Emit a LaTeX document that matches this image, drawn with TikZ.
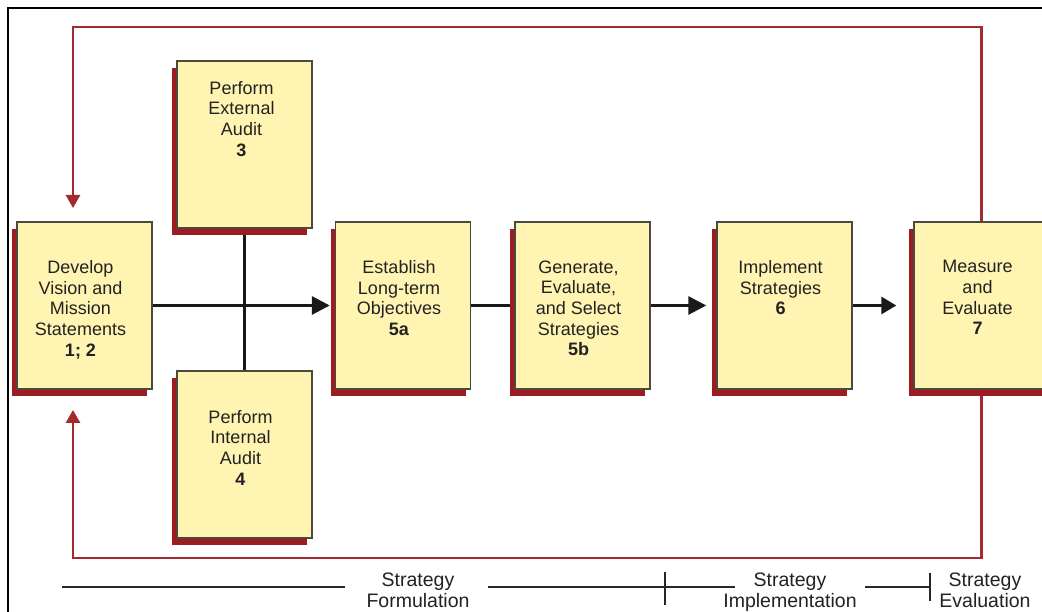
\documentclass[tikz,border=0pt]{standalone}
\usepackage{fontspec}
\setmainfont{Liberation Sans}
\usetikzlibrary{arrows.meta,shadows,backgrounds}
\definecolor{boxfill}{HTML}{FFF4B2}
\definecolor{boxedge}{HTML}{4D4A3C}
\definecolor{shadowred}{HTML}{9C1C21}
\definecolor{loopred}{HTML}{A32A2E}
\definecolor{txt}{HTML}{222222}
\begin{document}
\begin{tikzpicture}[x=1pt,y=1pt,
  stagebox/.style={draw=boxedge, line width=1.4pt, fill=boxfill, minimum width=135pt, minimum height=167pt, inner sep=0pt,
    general shadow={fill=shadowred, shadow xshift=-5pt, shadow yshift=-7pt}},
  stagetext/.style={anchor=north, align=center, inner sep=0pt, text=txt, font=\fontsize{18}{20.7}\selectfont},
  flow/.style={draw=black!90, line width=3pt},
  flowarrow/.style={flow, -{Triangle[length=18pt,width=18pt]}},
  loopline/.style={draw=loopred, line width=2.8pt, line join=miter, -{Triangle[length=13pt,width=14pt]}},
  phaseline/.style={draw=black!85, line width=2pt},
  phasetext/.style={align=center, anchor=north, inner sep=0pt, text=txt, font=\fontsize{19.5}{20.5}\selectfont},
]
\useasboundingbox (0,0) rectangle (1042,611);
\clip (0,0) rectangle (1042,611);

% outer frame
\draw[line width=2pt, black] (8,-10) -- (8,603) -- (1060,603);

% boxes
\node[stagebox] (b1) at (84.5,305.5) {};
\node[stagebox] (b3) at (244.5,466.5) {};
\node[stagebox] (b4) at (244.5,156.5) {};
\node[stagebox] (b5a) at (403,305.5) {};
\node[stagebox] (b5b) at (582.5,305.5) {};
\node[stagebox] (b6) at (784.5,305.5) {};
\node[stagebox] (b7) at (981.5,305.5) {};

% box texts
\node[stagetext] (t1) at ([xshift=-4pt,yshift=-39pt]b1.north) {Develop\\Vision and\\Mission\\Statements\\\textbf{1; 2}};
\node[stagetext] (t3) at ([xshift=-3pt,yshift=-20.5pt]b3.north) {Perform\\External\\Audit\\\textbf{3}};
\node[stagetext] (t4) at ([xshift=-4pt,yshift=-39.5pt]b4.north) {Perform\\Internal\\Audit\\\textbf{4}};
\node[stagetext] (t5a) at ([xshift=-4pt,yshift=-39pt]b5a.north) {Establish\\Long-term\\Objectives\\\textbf{5a}};
\node[stagetext] (t5b) at ([xshift=-4pt,yshift=-39pt]b5b.north) {Generate,\\Evaluate,\\and Select\\Strategies\\\textbf{5b}};
\node[stagetext] (t6) at ([xshift=-4pt,yshift=-39pt]b6.north) {Implement\\Strategies\\\textbf{6}};
\node[stagetext] (t7) at ([xshift=-4pt,yshift=-39pt]b7.north) {Measure\\and\\Evaluate\\\textbf{7}};

% feedback loop coordinates
\coordinate (topTL) at (73,584);
\coordinate (topTip) at (73,403);
\coordinate (botBL) at (73,53);
\coordinate (botTip) at (73,201);

\begin{scope}[on background layer]
  \fill[white] (0,0) rectangle (1042,611);
  \draw[flowarrow, shorten >=5pt] (b1.east) -- (b5a.west);
  \draw[flow] (b3.south) -- (b4.north);
  \draw[flow] (b5a.east) -- (b5b.west);
  \draw[flowarrow, shorten >=10pt] (b5b.east) -- (b6.west);
  \draw[flow, -{Triangle[length=15pt,width=17pt]}, shorten >=17pt] (b6.east) -- (b7.west);
  \draw[loopline] (b7.north) |- (topTL) -- (topTip);
  \draw[loopline] (b7.south) |- (botBL) -- (botTip);
\end{scope}

% phase bar
\coordinate (pA1) at (62,24);
\coordinate (pA2) at (345,24);
\coordinate (pB1) at (488,24);
\coordinate (pB2) at (735,24);
\coordinate (tB1) at (665,39);
\coordinate (tB2) at (665,6);
\coordinate (pC1) at (865,24);
\coordinate (pC2) at (930,24);
\coordinate (tC1) at (930,38);
\coordinate (tC2) at (930,10);
\draw[phaseline] (pA1) -- (pA2);
\draw[phaseline] (pB1) -- (pB2);
\draw[phaseline] (tB1) -- (tB2);
\draw[phaseline] (pC1) -- (pC2);
\draw[phaseline] (tC1) -- (tC2);
\node[phasetext] (pf) at (418,38) {Strategy\\Formulation};
\node[phasetext] (pi) at (790,38) {Strategy\\Implementation};
\node[phasetext] (pe) at (985,38) {Strategy\\Evaluation};
\end{tikzpicture}
\end{document}
